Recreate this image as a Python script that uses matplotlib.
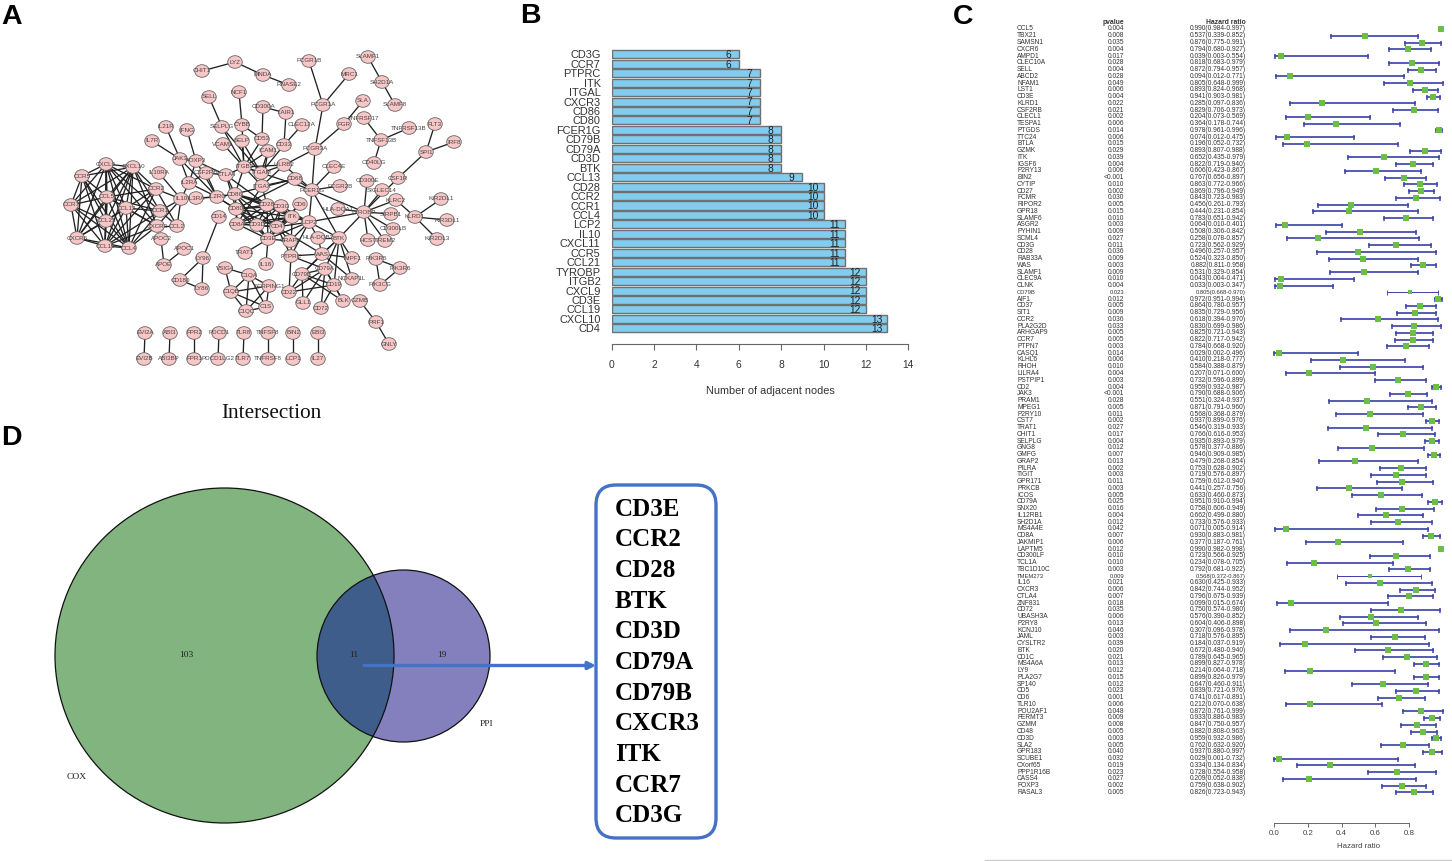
import itertools
import matplotlib
matplotlib.use("Agg")
import matplotlib.pyplot as plt
from matplotlib.patches import Ellipse, FancyBboxPatch
from matplotlib.transforms import blended_transform_factory

plt.rcParams['font.family'] = ['Liberation Sans', 'DejaVu Sans']
W, H = 1452, 861
SERIF = ['Liberation Serif', 'DejaVu Serif']

# ---------- Panel A: network ----------
node_names = ["CHIT1","LYZ","MNDA","RNASE2","SELL","NCF1","SELPLG","IL21R","IFNG","IL7R","VCAM1","JAK3","FOXP3",
 "CXCL9","CXCL10","CCR5","IL10RA","CSF2RB","CTLA4","IL2RA","CCR2","CCL5","IL10","IL3RA","IL2RG","CCR7","CCL13",
 "CCR1","CCL21","CXCR3","CCL2","CXCR6","CCL19","CCL4","APOC2","APOC1","APOE","LY96","CD14","CD180","LY86",
 "FCGR1B","MRC1","SLAMF1","SH2D1A","SLAMF8","SLA","TNFRSF17","FCGR1A","FGR","TNFSF13B","TNFRSF13B","FLT3","IRF8",
 "SPI1","CD40LG","CSF1R","CD300E","SIGLEC14","KLRC2","KIR2DL1","FCGR3A","CLEC4E","FCGR2B","FCER1G","CD68","LILRB2",
 "CD33","LAIR1","CLEC12A","CD300A","CD53","CYBB","SELP","ICAM1","ITGB2","ITGAM","ITGAX","CD86","CD80","CD28","CD3G",
 "CD6","CD8A","CD3D","CD4","CD3E","GRAP2","ITK","LCP2","HLA-DQA1","TYROBP","SIRPB1","KLRD1","KIR3DL1","KIR2DL3",
 "CD300LB","TREM2","HCST","BTK","HLA-DQB2","TRAT1","PTPRC","WAS","WIPF1","PIK3R6","PIK3R5","PIK3CG","CD79B","CD79A",
 "CD19","NCKAP1L","BLK","GZMB","PRF1","GNLY","CD72","GLL1","CD22","IL16","VSIG4","C1QA","SERPING1","C1QB","C1QC","C1S",
 "EVI2A","ABI3","FPR2","PDCD1","TLR8","TNFSF8","BIN2","EBI3","EVI2B","ABI3BP","FPR1","PDCD1LG2","TLR7","TNFRSF8","LCP1","IL27"]
node_x = [202,235,263,289,209,239,222,166,187,152,223,180,196,
 106,133,82,159,206,226,189,156,107,181,196,217,71,126,
 160,106,157,177,77,105,129,161,184,164,203,219,180,202,
 309,349,368,382,395,363,364,323,344,381,409,435,454,
 426,374,398,367,382,396,441,315,334,340,312,295,284,
 284,286,302,263,262,242,242,268,244,261,262,235,236,267,281,
 300,237,257,277,268,290,292,309,338,364,391,415,447,437,
 393,385,368,339,318,245,291,322,352,400,376,380,302,325,
 334,352,343,360,376,389,321,303,289,266,225,249,269,231,246,266,
 145,170,194,219,244,268,293,318,144,169,194,218,243,268,293,318]
node_y = [71,62,75,85,97,92,127,127,130,141,144,159,161,
 164,167,176,173,173,175,183,189,197,199,198,197,205,208,
 211,221,226,226,238,246,248,239,249,265,258,217,280,289,
 61,74,57,82,105,101,118,105,124,140,128,124,142,
 152,163,178,181,190,200,199,149,167,186,190,179,165,
 145,113,125,107,139,125,141,151,167,173,186,194,209,205,206,
 204,224,225,227,239,241,217,222,209,212,214,217,220,239,
 229,241,240,238,238,253,256,254,258,268,259,285,274,269,
 285,279,301,301,322,344,308,303,292,264,268,275,286,292,311,307,
 333,333,333,333,333,333,333,333,359,359,359,359,359,359,359,359]
chemokine_clique = ["CCR5","CXCL9","CXCL10","CCL5","CCR7","CCL13","CCL21","CXCR6","CCL19","CCL4"]
chemokine_receptors = ["CCR2","CCR1","CXCR3"]
chemokine_partners = ["CXCL9","CXCL10","CCL5","CCL13","CCL19","CCL4"]
tcell_clique = ["CD4","CD3E","CD3G","CD3D","CD28","ITK","CD8A","CD80","CD86"]
c1q_clique = ["C1QA","C1QB","C1QC","C1S","SERPING1"]
bcell_clique = ["CD79A","CD79B","CD19","CD22"]
edge_pairs = """CHIT1:LYZ LYZ:MNDA MNDA:RNASE2 SELL:SELPLG NCF1:CYBB SLAMF1:SH2D1A SH2D1A:SLAMF8 FCGR1B:FCGR1A MRC1:FCGR1A
FCGR1A:FCGR3A FCGR3A:FGR FGR:SLA TNFRSF17:TNFSF13B TNFRSF13B:TNFSF13B TNFSF13B:CD40LG FLT3:SPI1 IRF8:SPI1 SPI1:CSF1R
CSF1R:TYROBP CD300E:TYROBP SIGLEC14:TYROBP KLRC2:TYROBP KLRC2:KLRD1 KIR2DL1:KLRD1 KIR3DL1:KLRD1 KIR2DL3:KLRD1
SIRPB1:TYROBP CD300LB:TYROBP TREM2:TYROBP HCST:TYROBP BTK:TYROBP HLA-DQA1:TYROBP FCER1G:TYROBP FCER1G:CLEC4E FCER1G:FCGR2B
FCER1G:FCGR3A FCER1G:CD68 FCER1G:BTK FCER1G:LCP2 FCER1G:LILRB2 FCER1G:ITGB2 LILRB2:FCGR3A LILRB2:ITGB2 LILRB2:ITGAM LILRB2:ITGAX
CD33:CLEC12A CD33:LAIR1 LAIR1:CD300A CD300A:CD53 CD53:CYBB CD53:ITGB2 CYBB:ITGB2 CD33:ITGAM ICAM1:ITGB2 ICAM1:ITGAM ICAM1:ITGAX
VCAM1:ITGB2 SELPLG:ITGB2 SELPLG:ITGAM SELP:ITGB2 SELP:ITGAM ITGB2:ITGAM ITGB2:ITGAX ITGB2:CD86 ITGAM:ITGAX ITGB2:CTLA4 CD86:CTLA4
CD68:ITGAX CD68:CD86 CD68:CD80 CD86:IL2RG CD80:IL2RG CSF2RB:IL2RA CSF2RB:CTLA4 CSF2RB:IL2RG CTLA4:FOXP3 CTLA4:CD80 CTLA4:CD28
LCP2:ITK LCP2:BTK LCP2:TYROBP LCP2:CD4 LCP2:GRAP2 LCP2:CD3G LCP2:HLA-DQB2 LCP2:PTPRC LCP2:CD28 LCP2:CD3E PTPRC:CD79A PTPRC:CD22 PTPRC:CD4 PTPRC:WAS PTPRC:ITK
GRAP2:CD3E GRAP2:CD4 BTK:WAS BTK:WIPF1 BTK:CD79A BTK:CD79B BTK:CD19 BTK:NCKAP1L BTK:HLA-DQB2 WAS:WIPF1 WAS:NCKAP1L WAS:CD79B WAS:HLA-DQB2 WAS:CD4
CD79A:CD72 CD79A:BLK CD79A:GLL1 CD79B:BLK CD79B:GLL1 CD19:CD72 CD19:BLK GZMB:PRF1 PRF1:GNLY PIK3R5:PIK3R6 PIK3R5:PIK3CG PIK3R6:PIK3CG
APOC2:APOE APOC1:APOE LY96:CD14 LY96:CD180 LY96:LY86 CD180:LY86 VSIG4:C1QA VSIG4:C1QB IL21R:JAK3 IL7R:JAK3 IFNG:FOXP3 JAK3:FOXP3 JAK3:IL2RA
JAK3:IL2RG FOXP3:IL2RA FOXP3:IL2RG IL10RA:IL10 IL10:CCR2 IL10:CCL2 IL10:CXCR3 IL10:IL3RA IL10:IL2RG IL3RA:IL2RG IL2RA:IL10 IL2RG:CD86 IL2RG:CD80 IL2RA:IL2RG
CCR1:CCL2 CXCR3:CCL2 CCR2:CCL2 CCR1:IL10 CD3E:TRAT1 CD3E:IL16 EVI2A:EVI2B ABI3:ABI3BP FPR2:FPR1 PDCD1:PDCD1LG2 TLR8:TLR7
TNFSF8:TNFRSF8 BIN2:LCP1 EBI3:IL27 CD6:CD4 CD6:CD3E CD28:CD86 CD80:CD8A CD8A:ITGAX ITGAX:CD28""".split()

# ---------- Panel B: bars ----------
bar_genes = ["CD3G","CCR7","PTPRC","ITK","ITGAL","CXCR3","CD86","CD80","FCER1G","CD79B","CD79A","CD3D","BTK","CCL13","CD28",
             "CCR2","CCR1","CCL4","LCP2","IL10","CXCL11","CCR5","CCL21","TYROBP","ITGB2","CXCL9","CD3E","CCL19","CXCL10","CD4"]
bar_counts = [6,6,7,7,7,7,7,7,8,8,8,8,8,9,10,10,10,10,11,11,11,11,11,12,12,12,12,12,13,13]
bar_ticks = [0,2,4,6,8,10,12,14]

# ---------- Panel C: forest ----------
cox_genes = ["CCL5","TBX21","SAMSN1","CXCR6","AMPD1","CLEC10A","SELL","ABCD2","NFAM1","LST1","CD3E","KLRD1","CSF2RB","CLECL1","TESPA1","PTGDS","TTC24","BTLA","GZMK","ITK","IGSF6","P2RY13","BIN2","CYTIP","CD27","FCMR","RIPOR2","GPR18","SLAMF6","ASGR2","PYHIN1","SCML4","CD3G","CD28","RAB33A","WAS","SLAMF1","CLEC9A","CLNK","CD79B","AIF1","CD37","SIT1","CCR2","PLA2G2D","ARHGAP9","CCR7","PTPN7","CASQ1","KLHL6","RHOH","LILRA4","PSTPIP1","CD2","JAK3","PRAM1","MPEG1","P2RY10","CST7","TRAT1","CHIT1","SELPLG","GNG8","GMFG","GRAP2","PILRA","TIGIT","GPR171","PRKCB","ICOS","CD79A","SNX20","IL12RB1","SH2D1A","MS4A4E","CD8A","JAKMIP1","LAPTM5","CD300LF","TCL1A","TBC1D10C","TMEM273","IL16","CXCR3","CTLA4","ZNF831","CD72","UBASH3A","P2RY8","KCNJ10","JAML","CYSLTR2","BTK","CD1C","MS4A6A","LY9","PLA2G7","SP140","CD5","CD6","TLR10","POU2AF1","FERMT3","GZMM","CD48","CD3D","SLA2","GPR183","SCUBE1","CXorf65","PPP1R16B","CASS4","FOXP3","RASAL3"]
cox_p = ["0.004","0.008","0.035","0.004","0.017","0.028","0.004","0.028","0.049","0.006","0.004","0.022","0.021","0.002","0.006","0.014","0.006","0.015","0.029","0.039","0.004","0.006","<0.001","0.010","0.002","0.030","0.005","0.015","0.010","0.003","0.009","0.027","0.011","0.036","0.009","0.003","0.009","0.010","0.004","0.023","0.012","0.005","0.009","0.036","0.033","0.005","0.005","0.003","0.014","0.006","0.010","0.004","0.003","0.004","<0.001","0.028","0.005","0.011","0.002","0.027","0.017","0.004","0.012","0.007","0.013","0.002","0.003","0.011","0.003","0.005","0.025","0.016","0.004","0.012","0.042","0.007","0.006","0.012","0.010","0.010","0.003","0.009","0.021","0.006","0.007","0.018","0.035","0.006","0.013","0.046","0.003","0.039","0.020","0.021","0.013","0.012","0.015","0.012","0.023","0.001","0.006","0.048","0.009","0.008","0.005","0.003","0.005","0.040","0.032","0.019","0.023","0.027","0.002","0.005"]
cox_hr = [.990,.537,.876,.794,.039,.818,.872,.094,.805,.893,.941,.285,.829,.204,.364,.978,.074,.196,.893,.652,.822,.606,.767,.863,.869,.843,.456,.444,.783,.064,.508,.258,.723,.496,.524,.882,.531,.043,.033,.805,.972,.864,.835,.618,.830,.825,.822,.784,.029,.410,.584,.207,.732,.959,.790,.551,.871,.568,.937,.546,.766,.935,.578,.946,.479,.753,.719,.759,.441,.633,.951,.758,.662,.733,.071,.930,.377,.990,.723,.234,.792,.568,.630,.842,.796,.099,.750,.576,.604,.307,.718,.184,.672,.789,.899,.214,.899,.647,.839,.741,.212,.872,.933,.847,.882,.959,.762,.937,.029,.334,.728,.209,.759,.826]
cox_lo = [.984,.339,.775,.680,.003,.683,.794,.012,.648,.824,.903,.097,.706,.073,.178,.961,.012,.052,.807,.435,.719,.423,.656,.772,.796,.723,.261,.231,.651,.010,.306,.078,.562,.257,.323,.811,.329,.004,.003,.668,.951,.780,.729,.394,.699,.721,.717,.668,.002,.218,.388,.071,.596,.932,.688,.324,.791,.368,.899,.319,.616,.893,.377,.909,.268,.628,.576,.612,.257,.460,.910,.606,.499,.576,.005,.883,.187,.982,.566,.078,.681,.372,.425,.744,.675,.015,.574,.390,.406,.096,.576,.037,.480,.645,.827,.064,.826,.460,.721,.617,.070,.761,.886,.750,.808,.932,.632,.880,.001,.134,.554,.052,.638,.723]
cox_hi = [.997,.852,.991,.927,.554,.979,.957,.771,.999,.968,.981,.836,.973,.569,.744,.996,.475,.732,.988,.979,.940,.867,.897,.966,.949,.983,.793,.854,.942,.401,.842,.857,.929,.957,.850,.958,.854,.471,.347,.970,.994,.957,.956,.970,.986,.943,.942,.920,.496,.777,.879,.600,.899,.987,.906,.937,.960,.879,.976,.933,.953,.979,.886,.985,.854,.902,.897,.940,.756,.873,.994,.949,.880,.933,.914,.981,.761,.998,.925,.705,.922,.867,.933,.952,.939,.674,.980,.852,.898,.978,.895,.919,.940,.965,.978,.718,.979,.911,.976,.891,.638,.999,.983,.957,.963,.986,.920,.997,.732,.834,.958,.838,.902,.943]
squeezed_rows = ["CD79B", "TMEM273"]
hr_ticks = [0.0, 0.2, 0.4, 0.6, 0.8]

# ---------- Panel D: Venn ----------
venn_counts = ["103", "11", "19"]
venn_sets = ["COX", "PPI"]
overlap_genes = ["CD3E","CCR2","CD28","BTK","CD3D","CD79A","CD79B","CXCR3","ITK","CCR7","CD3G"]

fig = plt.figure(figsize=(W/100, H/100), dpi=100, facecolor='white')

def px_axes(x0, y0, x1, y1, **kw):
    return fig.add_axes([x0/W, 1-y1/H, (x1-x0)/W, (y1-y0)/H], **kw)

ov = px_axes(0, 0, W, H)
ov.set_xlim(0, W); ov.set_ylim(H, 0); ov.axis('off')

for letter, lx, ly in [("A", 1, 24), ("B", 520, 23), ("C", 953, 24), ("D", 1, 445)]:
    ov.text(lx, ly, letter, fontsize=20.5, fontweight='bold', color='black', ha='left', va='baseline')

# Panel A
pos = {n: (x, y) for n, x, y in zip(node_names, node_x, node_y)}
edges = [p.split(":") for p in edge_pairs]
skip = {("CCR7","CCL13"),("CCR5","CCL13"),("CCR7","CXCL10")}
for clique in (chemokine_clique, tcell_clique, c1q_clique, bcell_clique):
    edges += [list(e) for e in itertools.combinations(clique, 2) if e not in skip]
edges += [[r, p] for r in chemokine_receptors for p in chemokine_partners]
for a, b in edges:
    ov.plot([pos[a][0], pos[b][0]], [pos[a][1], pos[b][1]], color='#222222', lw=0.95, zorder=2, solid_capstyle='round')
for n in node_names:
    x, y = pos[n]
    ov.add_patch(Ellipse((x, y), 14.5, 12.6, fc='#F8C6C6', ec='#666666', lw=0.6, zorder=3))
    ov.text(x, y, n, fontsize=4.5, color='#444444', ha='center', va='center', zorder=4)
ov.text(271, 413, "Intersection", family=SERIF, fontsize=15.3, color='#111111', ha='center', va='center')

# Panel B
axb = px_axes(611.7, 49, 908.3, 344)
n_b = len(bar_genes)
y_b = list(range(n_b))
axb.barh(y_b, bar_counts, height=0.85, color='#82CDEF', edgecolor='#707070', linewidth=1.0)
for yy, v in zip(y_b, bar_counts):
    axb.text(v-0.5, yy+0.1, str(v), fontsize=7.4, color='#222222', ha='center', va='center')
axb.set_xlim(0, 14)
axb.set_ylim((344-54.3)/9.45, (49-54.3)/9.45)
axb.set_yticks(y_b, bar_genes, fontsize=7.9, color='#333333')
axb.tick_params(axis='y', length=0, pad=8)
axb.set_xticks(bar_ticks, [str(t) for t in bar_ticks], fontsize=7.4, color='#333333')
axb.tick_params(axis='x', length=4.3, width=0.8, color='#666666', pad=7)
for s in ('top', 'left', 'right'):
    axb.spines[s].set_visible(False)
axb.spines['bottom'].set_color('#666666'); axb.spines['bottom'].set_linewidth(0.8)
axb.patch.set_alpha(0)
ov.text(770, 390.7, "Number of adjacent nodes", fontsize=7.8, color='#333333', ha='center', va='center')

# Panel C
axc = px_axes(1274, 10, 1443, 822.7)
n_c = len(cox_genes)
first_y, last_y = 29.0, 792.3
row = (last_y-first_y)/(n_c-1)
axc.set_xlim(0, 1)
axc.set_ylim((822.7-first_y)/row, (10-first_y)/row)
axc.patch.set_alpha(0)
axc.axvline(1.0, color='#666666', lw=0.7, ls=(0, (4, 3)))
tf = blended_transform_factory(ov.transData, axc.transData)
for i, g in enumerate(cox_genes):
    small = g in squeezed_rows
    fs = 4.2 if small else 4.75
    col = '#333333'
    axc.text(1017, i, g, transform=tf, fontsize=fs, color=col, ha='left', va='center', clip_on=False)
    axc.text(1124, i, cox_p[i], transform=tf, fontsize=fs, color=col, ha='right', va='center', clip_on=False)
    axc.text(1246, i, f"{cox_hr[i]:.3f}({cox_lo[i]:.3f}-{cox_hi[i]:.3f})", transform=tf, fontsize=fs,
             color=col, ha='right', va='center', clip_on=False)
    lw = 0.7 if small else 1.2
    axc.plot([cox_lo[i], cox_hi[i]], [i, i], color='#3A40A8', lw=lw, clip_on=False, zorder=2)
    axc.plot([cox_lo[i], cox_hi[i]], [i, i], ls='none', marker='|', ms=3.6, mew=lw*0.9, color='#3A40A8', clip_on=False, zorder=2)
    axc.plot([cox_hr[i]], [i], ls='none', marker='s', ms=3.0 if small else 3.9, mfc='#6CBF45', mec='#6CBF45', mew=0, clip_on=False, zorder=3)
axc.text(1124, -1.0, "pvalue", transform=tf, fontsize=4.9, fontweight='bold', color='#333333', ha='right', va='center')
axc.text(1246, -1.0, "Hazard ratio", transform=tf, fontsize=4.9, fontweight='bold', color='#333333', ha='right', va='center')
for s in ('top', 'left', 'right'):
    axc.spines[s].set_visible(False)
axc.spines['bottom'].set_bounds(0, 0.8)
axc.spines['bottom'].set_color('#666666'); axc.spines['bottom'].set_linewidth(0.7)
axc.set_yticks([])
axc.set_xticks(hr_ticks, [f"{t:.1f}" for t in hr_ticks], fontsize=5.7, color='#444444')
axc.tick_params(axis='x', length=3, width=0.7, color='#666666', pad=2)
ov.text(1358.5, 846.7, "Hazard ratio", fontsize=5.7, color='#444444', ha='center', va='center')
ov.plot([985, W], [860, 860], color='#CCCCCC', lw=1.0)

# Panel D
big = Ellipse((224.5, 655.5), 339, 335, fc='#82B480', ec='none', zorder=2)
small_e = Ellipse((403.5, 656), 173, 172, fc='#8480BE', ec='none', zorder=2)
ov.add_patch(small_e); ov.add_patch(big)
over = Ellipse((403.5, 656), 173, 172, fc='#3F5D8A', ec='none', zorder=3)
ov.add_patch(over)
over.set_clip_path(big)
ov.add_patch(Ellipse((224.5, 655.5), 339, 335, fc='none', ec='#111111', lw=0.9, zorder=4))
ov.add_patch(Ellipse((403.5, 656), 173, 172, fc='none', ec='#111111', lw=0.9, zorder=4))
for (tx, ty), s in zip([(186, 655), (354, 655), (442, 655)], venn_counts):
    ov.text(tx, ty, s, family=SERIF, fontsize=6.8, color='#222222', ha='center', va='center', zorder=5)
for (tx, ty), s in zip([(77, 777), (486, 724)], venn_sets):
    ov.text(tx, ty, s, family=SERIF, fontsize=6.8, color='#222222', ha='center', va='center', zorder=5)
ov.annotate("", xy=(596, 665.5), xytext=(364, 665.5), zorder=6,
            arrowprops=dict(arrowstyle='-|>', color='#4472C4', lw=2.4, mutation_scale=11, shrinkA=0, shrinkB=0))
ov.add_patch(FancyBboxPatch((616, 505), 80, 313, boxstyle="round,pad=20,rounding_size=20",
                            fc='white', ec='#4472C4', lw=2.4, zorder=5))
for i, g in enumerate(overlap_genes):
    ov.text(615, 509 + i*30.67, g, family=SERIF, fontsize=18, fontweight='bold', color='black',
            ha='left', va='center', zorder=6)

fig.savefig("out.png", dpi=100)
